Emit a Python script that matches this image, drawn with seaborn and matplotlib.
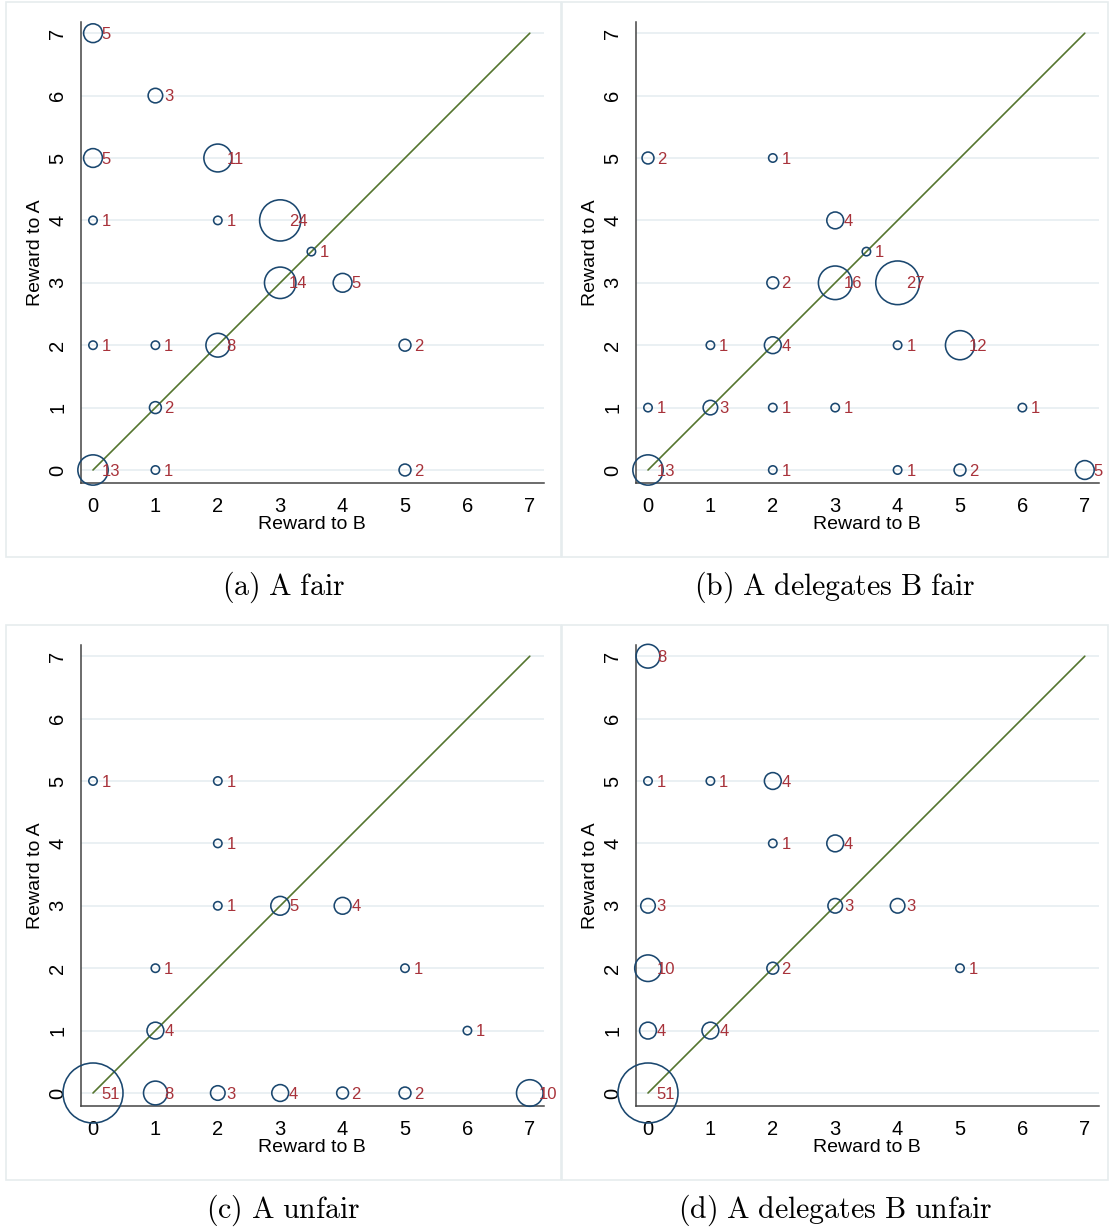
import numpy as np
import pandas as pd
import matplotlib
matplotlib.use("Agg")
import matplotlib.pyplot as plt
import seaborn as sns
from matplotlib.patches import Rectangle

# ---- data: (reward to B, reward to A, count) for each panel ----
a_to_b = [0, 1, 0, 2, 0, 2, 3, 3.5, 3, 4, 0, 1, 2, 5, 1, 0, 1, 5]
a_to_a = [7, 6, 5, 5, 4, 4, 4, 3.5, 3, 3, 2, 2, 2, 2, 1, 0, 0, 0]
a_n = [5, 3, 5, 11, 1, 1, 24, 1, 14, 5, 1, 1, 8, 2, 2, 13, 1, 2]

b_to_b = [0, 2, 3, 3.5, 2, 3, 4, 1, 2, 4, 5, 0, 1, 2, 3, 6, 0, 2, 4, 5, 7]
b_to_a = [5, 5, 4, 3.5, 3, 3, 3, 2, 2, 2, 2, 1, 1, 1, 1, 1, 0, 0, 0, 0, 0]
b_n = [2, 1, 4, 1, 2, 16, 27, 1, 4, 1, 12, 1, 3, 1, 1, 1, 13, 1, 1, 2, 5]

c_to_b = [0, 2, 2, 2, 3, 4, 1, 5, 1, 6, 0, 1, 2, 3, 4, 5, 7]
c_to_a = [5, 5, 4, 3, 3, 3, 2, 2, 1, 1, 0, 0, 0, 0, 0, 0, 0]
c_n = [1, 1, 1, 1, 5, 4, 1, 1, 4, 1, 51, 8, 3, 4, 2, 2, 10]

d_to_b = [0, 0, 1, 2, 2, 3, 0, 3, 4, 0, 2, 5, 0, 1, 0]
d_to_a = [7, 5, 5, 5, 4, 4, 3, 3, 3, 2, 2, 2, 1, 1, 0]
d_n = [8, 1, 1, 4, 1, 4, 3, 3, 3, 10, 2, 1, 4, 4, 51]

captions = ["(a) A fair", "(b) A delegates B fair",
            "(c) A unfair", "(d) A delegates B unfair"]
ticks = [0, 1, 2, 3, 4, 5, 6, 7]

NAVY = "#1a476f"
GREEN = "#55752f"
LABEL_RED = "#a8323a"
GRID = "#e8eff2"

W, H = 1110, 1229
fig = plt.figure(figsize=(W / 100, H / 100), dpi=100)
sns.set_style("white")
plt.rcParams["font.family"] = ["Liberation Sans", "DejaVu Sans"]
plt.rcParams["mathtext.fontset"] = "cm"

# pixel location of data (0,0) per panel, and px per unit
UNIT = 62.4
origins = [(93, 470), (648, 470), (93, 1093), (648, 1093)]
boxes = [(6, 2, 555, 555), (562, 2, 546, 555), (6, 625, 555, 555), (562, 625, 546, 555)]
XLIM = (-0.19, 7.22)
YLIM = (-0.21, 7.18)

panels = [(a_to_b, a_to_a, a_n), (b_to_b, b_to_a, b_n),
          (c_to_b, c_to_a, c_n), (d_to_b, d_to_a, d_n)]

for i, (xs, ys, ns) in enumerate(panels):
    # light frame around each panel
    bx, by, bw, bh = boxes[i]
    fig.patches.append(Rectangle((bx / W, 1 - (by + bh) / H), bw / W, bh / H,
                                 transform=fig.transFigure, fill=False,
                                 edgecolor="#e6ecee", linewidth=1.2))

    ox, oy = origins[i]
    left = ox + XLIM[0] * UNIT
    right = ox + XLIM[1] * UNIT
    bottom = oy - YLIM[0] * UNIT
    top = oy - YLIM[1] * UNIT
    ax = fig.add_axes([left / W, 1 - bottom / H, (right - left) / W, (bottom - top) / H])

    df = pd.DataFrame({"to_b": xs, "to_a": ys, "n": ns})

    # horizontal grid
    for t in ticks:
        ax.axhline(t, color=GRID, linewidth=1.3, zorder=0)

    # 45-degree line
    sns.lineplot(x=[0, 7], y=[0, 7], ax=ax, color=GREEN, linewidth=1.2, zorder=2)

    # bubbles: area proportional to count
    sns.scatterplot(data=df, x="to_b", y="to_a", size="n", sizes=(36.6, 36.6 * 51),
                    size_norm=(1, 51), facecolors="none", edgecolor=NAVY,
                    linewidth=1.15, legend=False, ax=ax, zorder=3, clip_on=False)

    for _, r in df.iterrows():
        ax.annotate(str(int(r["n"])), (r["to_b"], r["to_a"]), xytext=(6.3, -0.8),
                    textcoords="offset points", ha="left", va="center",
                    fontsize=12, color=LABEL_RED, zorder=4, annotation_clip=False)

    ax.set_xlim(*XLIM)
    ax.set_ylim(*YLIM)
    ax.set_xticks(ticks)
    ax.set_yticks(ticks)
    ax.set_yticklabels([str(t) for t in ticks], rotation=90, va="center")
    ax.tick_params(axis="both", direction="out", length=6, width=1.1,
                   color="#555555", labelsize=14.5, labelcolor="black", pad=4)
    ax.set_xlabel("Reward to B", fontsize=14, labelpad=0, color="black")
    ax.set_ylabel("Reward to A", fontsize=14, labelpad=3, color="black")
    for s in ["top", "right"]:
        ax.spines[s].set_visible(False)
    for s in ["left", "bottom"]:
        ax.spines[s].set_color("#444444")
        ax.spines[s].set_linewidth(1.1)
    ax.set_facecolor("none")

    # caption below the panel
    cap = captions[i].replace(" ", r"\ ")
    fig.text((bx + bw / 2) / W, 1 - (by + bh + 30) / H, r"$\mathrm{" + cap + "}$",
             ha="center", va="center", fontsize=21.5, color="black")

fig.savefig("out.png", dpi=100, facecolor="white")
